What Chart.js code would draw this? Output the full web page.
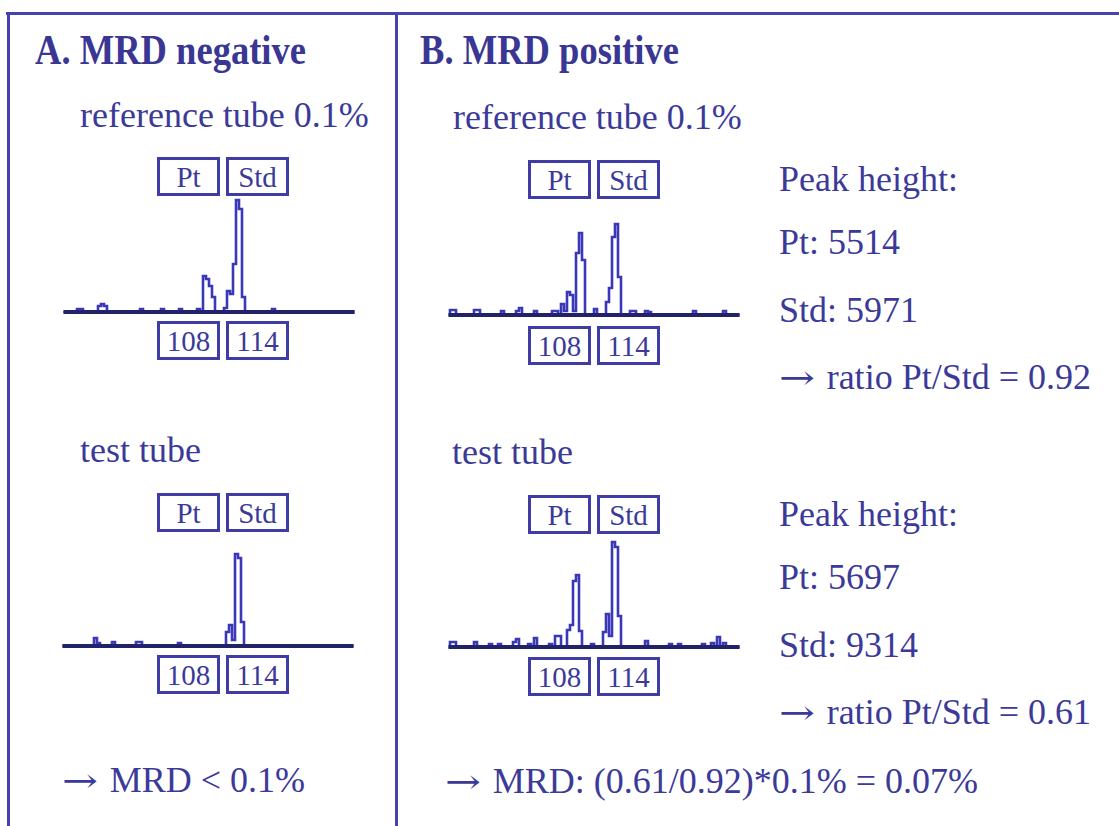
<!DOCTYPE html>
<html>
<head>
<meta charset="utf-8">
<script src="https://cdn.jsdelivr.net/npm/chart.js@4.4.1/dist/chart.umd.min.js"></script>
<style>
  html, body { margin: 0; padding: 0; background: #fff; }
  #page { position: relative; width: 1119px; height: 826px; overflow: hidden; font-family: "Liberation Serif", "DejaVu Serif", serif; color: #3c3a98; }
  .rule { position: absolute; background: #4644ac; }
  .t { position: absolute; white-space: nowrap; font-size: 36px; line-height: 1; }
  .arr { display: inline-block; font-family: "DejaVu Serif", serif; font-size: 33px; transform: scaleX(1.3); transform-origin: left center; margin-right: 11px; }
  .title { position: absolute; white-space: nowrap; font-size: 43px; font-weight: bold; line-height: 1; color: #3a3794; transform: scaleX(0.85); transform-origin: left top; }
  .box { position: absolute; width: 57px; height: 33px; border: 3px solid #3f3ca6; font-size: 29px; line-height: 34px; text-align: center; }
  canvas { position: absolute; }
</style>
</head>
<body>
<div id="page">
  <!-- frame -->
  <div class="rule" style="left:6px; top:12px; width:1113px; height:3px;"></div>
  <div class="rule" style="left:7px; top:12px; width:3px; height:814px;"></div>
  <div class="rule" style="left:395px; top:12px; width:3px; height:814px;"></div>

  <!-- panel A -->
  <div class="title" style="left:35px; top:28px;">A. MRD negative</div>
  <div class="t" style="left:80px; top:97px;">reference tube 0.1%</div>
  <div class="box" style="left:157px; top:157px;">Pt</div>
  <div class="box" style="left:226px; top:157px;">Std</div>
  <canvas id="aRef" width="294" height="122" style="left:62px; top:192px;"></canvas>
  <div class="box" style="left:157px; top:321px;">108</div>
  <div class="box" style="left:226px; top:321px;">114</div>

  <div class="t" style="left:80px; top:432px;">test tube</div>
  <div class="box" style="left:157px; top:493px;">Pt</div>
  <div class="box" style="left:226px; top:493px;">Std</div>
  <canvas id="aTest" width="294" height="102" style="left:61px; top:546px;"></canvas>
  <div class="box" style="left:157px; top:655px;">108</div>
  <div class="box" style="left:226px; top:655px;">114</div>

  <div class="t" style="left:62px; top:762px;"><span class="arr">&rarr;</span> MRD &lt; 0.1%</div>

  <!-- panel B -->
  <div class="title" style="left:420px; top:28px;">B. MRD positive</div>
  <div class="t" style="left:453px; top:99px;">reference tube 0.1%</div>
  <div class="box" style="left:528px; top:160px;">Pt</div>
  <div class="box" style="left:597px; top:160px;">Std</div>
  <canvas id="bRef" width="294" height="102" style="left:447px; top:215px;"></canvas>
  <div class="box" style="left:528px; top:326px;">108</div>
  <div class="box" style="left:597px; top:326px;">114</div>

  <div class="t" style="left:779px; top:161px;">Peak height:</div>
  <div class="t" style="left:779px; top:224px;">Pt: 5514</div>
  <div class="t" style="left:779px; top:292px;">Std: 5971</div>
  <div class="t" style="left:779px; top:359px;"><span class="arr">&rarr;</span> ratio Pt/Std = 0.92</div>

  <div class="t" style="left:452px; top:434px;">test tube</div>
  <div class="box" style="left:528px; top:495px;">Pt</div>
  <div class="box" style="left:597px; top:495px;">Std</div>
  <canvas id="bTest" width="294" height="114" style="left:447px; top:535px;"></canvas>
  <div class="box" style="left:528px; top:657px;">108</div>
  <div class="box" style="left:597px; top:657px;">114</div>

  <div class="t" style="left:779px; top:496px;">Peak height:</div>
  <div class="t" style="left:779px; top:559px;">Pt: 5697</div>
  <div class="t" style="left:779px; top:627px;">Std: 9314</div>
  <div class="t" style="left:779px; top:694px;"><span class="arr">&rarr;</span> ratio Pt/Std = 0.61</div>

  <div class="t" style="left:445px; top:763px;"><span class="arr">&rarr;</span> MRD: (0.61/0.92)*0.1% = 0.07%</div>
</div>

<script>
// signal heights per size bin (98 bins across each trace)
const aRefSignal = [
  0, 0, 0, 0, 0, 3, 3, 0, 0, 0,
  0, 0, 6, 8, 6, 0, 0, 0, 0, 0,
  0, 0, 0, 0, 0, 0, 3, 0, 0, 0,
  0, 0, 0, 3, 0, 0, 0, 0, 0, 3,
  0, 0, 0, 0, 0, 3, 0, 36, 33, 26,
  15, 0, 0, 0, 4, 21, 18, 48, 112, 103,
  15, 0, 0, 0, 0, 0, 0, 0, 0, 0,
  3, 0, 0, 0, 0, 0, 0, 0, 0, 0,
  0, 0, 0, 0, 0, 0, 0, 0, 0, 0,
  0, 0, 0, 0, 0, 0, 0, 0
];
const aTestSignal = [
  0, 0, 0, 0, 0, 0, 0, 0, 0, 0,
  0, 8, 3, 0, 0, 0, 0, 4, 0, 0,
  0, 0, 0, 0, 0, 4, 4, 0, 0, 0,
  0, 0, 0, 0, 0, 0, 0, 0, 0, 3,
  0, 0, 0, 0, 0, 0, 0, 0, 0, 0,
  0, 0, 0, 0, 0, 14, 21, 6, 92, 88,
  24, 0, 0, 0, 0, 0, 0, 0, 0, 0,
  0, 0, 0, 0, 0, 0, 0, 0, 0, 0,
  0, 0, 0, 0, 0, 0, 0, 0, 0, 0,
  0, 0, 0, 0, 0, 0, 0, 0
];
const bRefSignal = [
  0, 5, 5, 0, 0, 0, 0, 0, 0, 5,
  5, 0, 0, 0, 0, 0, 0, 0, 4, 0,
  0, 0, 0, 4, 7, 0, 0, 0, 0, 4,
  0, 0, 0, 0, 0, 4, 4, 0, 11, 4,
  23, 20, 4, 62, 82, 55, 0, 0, 0, 6,
  0, 0, 0, 13, 27, 78, 91, 38, 0, 0,
  0, 4, 4, 0, 0, 0, 4, 3, 0, 0,
  0, 0, 0, 0, 0, 0, 0, 0, 0, 0,
  0, 0, 4, 0, 0, 0, 0, 0, 0, 0,
  0, 0, 4, 0, 0, 0, 0, 0
];
const bTestSignal = [
  0, 5, 5, 0, 0, 0, 0, 0, 0, 5,
  0, 0, 0, 0, 3, 0, 0, 3, 0, 0,
  0, 0, 5, 8, 0, 0, 0, 3, 0, 9,
  0, 0, 0, 0, 3, 0, 11, 11, 0, 0,
  17, 22, 66, 72, 16, 0, 0, 0, 3, 0,
  0, 0, 15, 33, 11, 105, 100, 31, 0, 0,
  0, 0, 0, 0, 0, 0, 6, 0, 0, 0,
  0, 0, 0, 0, 3, 0, 0, 3, 0, 0,
  0, 0, 0, 0, 0, 3, 0, 0, 4, 0,
  10, 0, 4, 0, 0, 0, 0, 0
];

const TRACE_COLOR = '#3b38b8';
const BASE_COLOR = '#22226a';

// one small electropherogram per canvas, yMax = units that fit above baseline
function drawTrace(id, signal, yMax) {
  const ctx = document.getElementById(id);
  new Chart(ctx, {
    type: 'line',
    data: {
      labels: signal.map((_, i) => i),
      datasets: [{
        data: signal,
        stepped: 'middle',
        borderColor: TRACE_COLOR,
        borderWidth: 2.6,
        pointRadius: 0,
        fill: false,
        order: 2
      }, {
        // baseline
        data: signal.map(() => 0),
        borderColor: BASE_COLOR,
        borderWidth: 4,
        pointRadius: 0,
        fill: false,
        order: 1
      }]
    },
    options: {
      responsive: false,
      animation: false,
      events: [],
      layout: { padding: 0 },
      plugins: {
        legend: { display: false },
        tooltip: { enabled: false }
      },
      scales: {
        x: { display: false, offset: true },
        y: { display: false, min: -2, max: yMax }
      }
    }
  });
}

drawTrace('aRef', aRefSignal, 120);
drawTrace('aTest', aTestSignal, 100);
drawTrace('bRef', bRefSignal, 100);
drawTrace('bTest', bTestSignal, 112);
</script>
</body>
</html>
